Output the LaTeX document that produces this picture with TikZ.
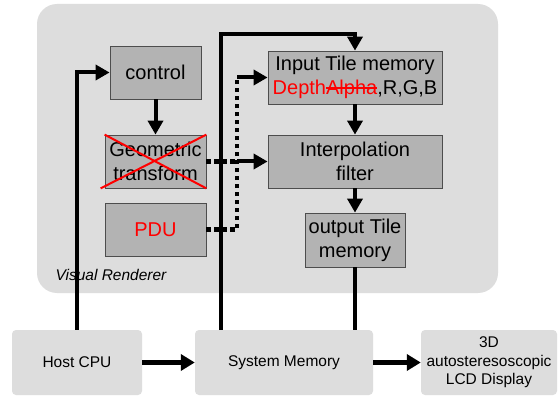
\documentclass[tikz,border=0pt]{standalone}
\usepackage{fontspec}
\setmainfont{Liberation Sans}
\usepackage{xcolor}
\usetikzlibrary{arrows.meta,calc,positioning}
\definecolor{vrpanel}{HTML}{DDDDDD}
\definecolor{vrblock}{HTML}{B3B3B3}
\definecolor{vrframe}{HTML}{4D4D4D}
\definecolor{vrred}{HTML}{FF0000}
\newsavebox\strikebox
\newcommand\redstrike[1]{\sbox\strikebox{#1}\rlap{\color{vrred}\rule[0.3em]{\wd\strikebox}{1.5pt}}\usebox\strikebox}

\begin{document}
\begin{tikzpicture}[x=1pt,y=-1pt,line join=miter,
  big/.style={font=\fontsize{20}{24}\selectfont},
  small/.style={font=\fontsize{15.5}{18.5}\selectfont},
  block/.style={big,draw=vrframe,line width=0.8pt,fill=vrblock,align=center,inner sep=0pt},
  unit/.style={small,fill=vrpanel,rounded corners=4pt,align=center,inner sep=0pt,minimum height=65pt},
  flow/.style={line width=4pt,-{Triangle[length=14pt,width=15pt]}},
  wire/.style={line width=4pt},
  dots/.style={line width=4.5pt,dash pattern=on 4.5pt off 3.5pt},
  wide/.style={line width=5pt,-{Triangle[length=14pt,width=16pt]}}]
\path[use as bounding box] (0,0) rectangle (558,396);
\fill[white] (0,0) rectangle (558,396);
% Visual Renderer panel
\fill[vrpanel,rounded corners=20pt] (37,4) rectangle (498,293);
\node[small,font=\fontsize{15.5}{18.5}\selectfont\itshape,anchor=base west] (vrlabel) at (52,280) {Visual Renderer};
% blocks inside the renderer
\node[block,minimum width=91pt,minimum height=53pt] (control) at (155.5,72.5) {control};
\node[block,minimum width=101pt,minimum height=53pt] (geo) at (155.5,161.5) {Geometric\\transform};
\node[block,minimum width=101pt,minimum height=53pt,text=vrred] (pdu) at (155.5,229.5) {PDU};
\node[block,minimum width=174pt,minimum height=53pt] (input) at (355,77.5)
  {Input Tile memory\\\textcolor{vrred}{Depth\redstrike{Alpha}},R,G,B};
\node[block,minimum width=174pt,minimum height=53pt] (interp) at (355,161.5) {Interpolation\\filter};
\node[block,minimum width=100pt,minimum height=54pt] (output) at (355,240) {output Tile\\memory};
\draw[vrred,line width=2pt] ([xshift=-4pt]geo.south west) -- (geo.north east);
\draw[vrred,line width=2pt] (geo.north west) -- (geo.south east);
% outside units
\node[unit,minimum width=130pt] (host) at (77,362.5) {Host CPU};
\node[unit,minimum width=178pt] (sysmem) at (284,362.5) {System Memory};
\node[unit,minimum width=136pt] (display) at (489,362.5) {3D\\autosteresoscopic\\LCD Display};
% connectors
\coordinate (bus) at (237,0);
\draw[flow] (host.north) |- (control.west);
\draw[flow] ([xshift=26pt]sysmem.north west) -- ++(0,-296) -| (input.north);
\draw[flow] (control.south) -- (geo.north);
\draw[dots] (geo.east) -- (geo.east -| bus);
\draw[flow] (geo.east -| bus) -- (interp.west);
\draw[dots] (pdu.east) -| (input.west -| bus);
\draw[flow] (input.west -| bus) -- (input.west);
\draw[flow] (input.south) -- (interp.north);
\draw[flow] (interp.south) -- (output.north);
\draw[wire] (output.south) -- (output.south |- sysmem.north);
\draw[wide] (host.east) -- (sysmem.west);
\draw[wide] (sysmem.east) -- (display.west);
\end{tikzpicture}
\end{document}
